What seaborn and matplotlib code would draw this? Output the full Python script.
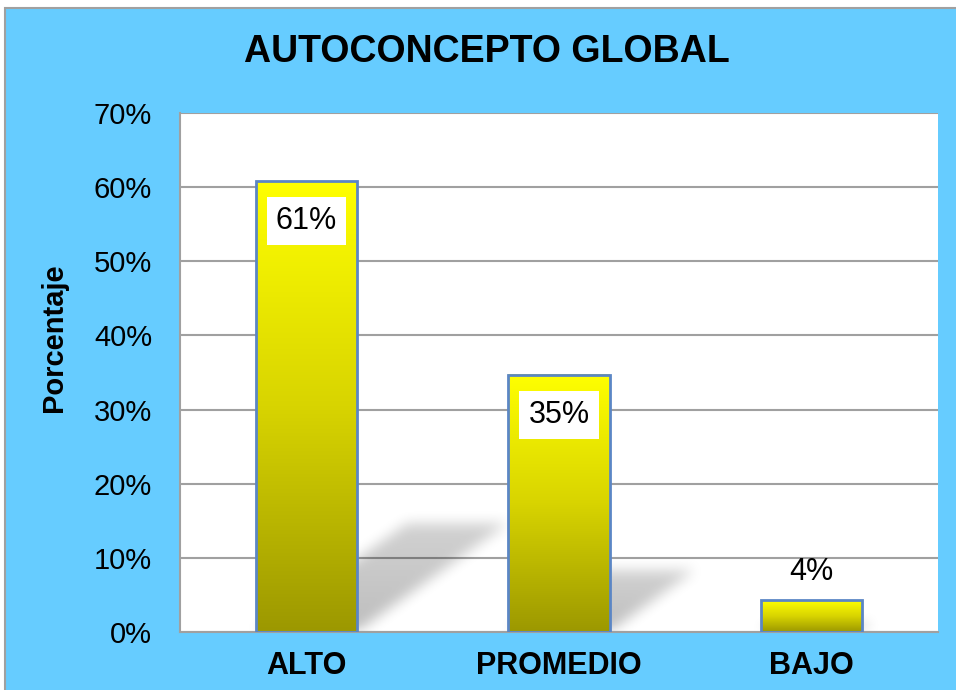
import numpy as np
import matplotlib
matplotlib.use("Agg")
import matplotlib.pyplot as plt
import seaborn as sns
from matplotlib.patches import Rectangle
from matplotlib.colors import LinearSegmentedColormap

sns.set_style("white")
plt.rcParams['font.family'] = ['Liberation Sans', 'DejaVu Sans']
plt.rcParams['text.color'] = 'black'
plt.rcParams['xtick.color'] = 'black'
plt.rcParams['ytick.color'] = 'black'

# Data
categories = ["ALTO", "PROMEDIO", "BAJO"]
values = [60.8, 34.7, 4.3]
labels = ["61%", "35%", "4%"]
yticks = [0, 10, 20, 30, 40, 50, 60, 70]

title = "AUTOCONCEPTO GLOBAL"
ylabel = "Porcentaje"

BG_BLUE = "#66CCFF"
EDGE_BLUE = "#5B86C5"
GRID_GRAY = "#A0A0A0"
BAR_CMAP = LinearSegmentedColormap.from_list("bar", ["#9C9800", "#D8D400", "#FFFF00"])


def box_blur(a, r, axis):
    k = np.ones(2 * r + 1) / (2 * r + 1)
    return np.apply_along_axis(lambda m: np.convolve(m, k, mode="same"), axis, a)


def draw_shadows(ax, xlim, ylim):
    # soft perspective shadow falling to the right of each bar
    nx, ny = 760, 520
    xs = np.linspace(xlim[0], xlim[1], nx)
    ys = np.linspace(ylim[0], ylim[1], ny)
    X, Y = np.meshgrid(xs, ys)
    shadow = np.zeros_like(X)
    for i, v in enumerate(values):
        sh = 0.24 * v
        dx = 0.0098 * v
        t = Y / sh
        left = i - 0.2 + dx * t
        inside = (Y <= sh) & (X >= left) & (X <= left + 0.4)
        shadow = np.maximum(shadow, inside * (1 - 0.3 * t))
    for _ in range(2):
        shadow = box_blur(shadow, 7, 0)
        shadow = box_blur(shadow, 7, 1)
    rgba = np.zeros((ny, nx, 4))
    rgba[..., 3] = shadow * 0.26
    ax.imshow(rgba, origin="lower", extent=(xlim[0], xlim[1], ylim[0], ylim[1]),
              aspect="auto", zorder=1, interpolation="bilinear")


fig = plt.figure(figsize=(9.56, 6.9), dpi=100)
fig.patch.set_facecolor("white")
fig.add_artist(Rectangle((5 / 956, -0.02), 1.05, 1.02 - 8 / 690, transform=fig.transFigure,
                         facecolor=BG_BLUE, edgecolor="#A0A0A0", lw=1.5, zorder=-10))

ax = fig.add_axes([180 / 956, 1 - 632 / 690, 758 / 956, 519 / 690])
ax.set_facecolor("white")

sns.barplot(x=categories, y=values, width=0.4, color="#FFFF00", ax=ax)

# gradient fill for the bars
grad = np.linspace(0, 1, 256).reshape(-1, 1)
for p in ax.patches:
    x0, w, h = p.get_x(), p.get_width(), p.get_height()
    ax.imshow(grad, cmap=BAR_CMAP, origin="lower", extent=(x0, x0 + w, 0, h),
              aspect="auto", zorder=2)
    p.set_facecolor("none")
    p.set_edgecolor(EDGE_BLUE)
    p.set_linewidth(2)
    p.set_zorder(3)

xlim, ylim = (-0.5, 2.5), (0, 70)
draw_shadows(ax, xlim, ylim)
ax.set_xlim(*xlim)
ax.set_ylim(*ylim)

# value labels
for i, (v, lab) in enumerate(zip(values, labels)):
    if v > 10:
        ax.text(i, v - 5.4, lab, ha="center", va="center", fontsize=22, zorder=5,
                bbox=dict(boxstyle="square,pad=0.3", facecolor="white", edgecolor="none"))
    else:
        ax.text(i, v + 3.8, lab, ha="center", va="center", fontsize=22, zorder=5)

ax.set_yticks(yticks)
ax.set_yticklabels([f"{t}%" for t in yticks], fontsize=21)
ax.set_xticks(range(len(categories)))
ax.set_xticklabels(categories, fontsize=22, fontweight="bold")
ax.tick_params(axis="y", length=0, pad=20)
ax.tick_params(axis="x", length=0, pad=14)
ax.set_xlabel("")
ax.set_ylabel("")
ax.yaxis.grid(True, color=GRID_GRAY, lw=1.5)
ax.set_axisbelow(True)
for side in ["top", "right"]:
    ax.spines[side].set_visible(False)
for side in ["left", "bottom"]:
    ax.spines[side].set_color(GRID_GRAY)
    ax.spines[side].set_linewidth(1.5)

fig.text(487 / 956, 1 - 52 / 690, title, ha="center", va="center",
         fontsize=27, fontweight="bold")
fig.text(54 / 956, 1 - 338 / 690, ylabel, ha="center", va="center", rotation=90,
         fontsize=21, fontweight="bold")

fig.savefig("out.png", dpi=100, facecolor=fig.get_facecolor())
